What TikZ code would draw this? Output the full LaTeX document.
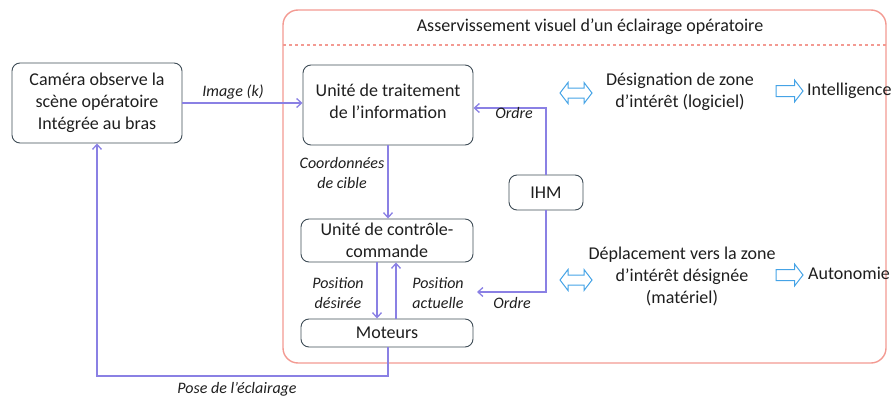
\documentclass[tikz,border=0pt]{standalone}
\usepackage{fontspec}
\setmainfont{Carlito}
\usetikzlibrary{arrows.meta}
\definecolor{boxc}{HTML}{3E4C56}
\definecolor{conn}{HTML}{8A80E4}
\definecolor{framec}{HTML}{F39A92}
\definecolor{bluea}{HTML}{45A3E6}
\definecolor{ink}{HTML}{1E1E1E}
\tikzset{
  blk/.style={draw=boxc, line width=0.9pt, rounded corners=8pt, align=center, inner sep=0pt,
    text=ink, font=\fontsize{18}{22}\selectfont},
  lbl/.style={align=center, inner sep=0pt, text=ink, font=\fontsize{16}{20}\selectfont\itshape},
  txt/.style={align=center, inner sep=0pt, text=ink, font=\fontsize{18}{22}\selectfont},
  cn/.style={draw=conn, line width=1.3pt, -{Straight Barb[length=5pt,width=9pt]}},
  sarrow/.pic={\draw[bluea, line width=1pt, line join=miter]
     (-13.5,-5.5) -- (5,-5.5) -- (5,-11) -- (13.5,0) -- (5,11) -- (5,5.5) -- (-13.5,5.5) -- cycle;},
  darrow/.pic={\draw[bluea, line width=1pt, line join=miter]
     (-8,-5) -- (8,-5) -- (8,-10.5) -- (16,0) -- (8,10.5) -- (8,5) -- (-8,5) -- (-8,10.5) -- (-16,0) -- (-8,-10.5) -- cycle;}
}
\begin{document}
\begin{tikzpicture}[x=1pt,y=-1pt]
\useasboundingbox (0,0) rectangle (891,396);
% frame
\node[draw=framec, line width=1.4pt, rounded corners=15pt, minimum width=603pt, minimum height=353pt, inner sep=0pt] (frame) at (584.5,186.5) {};
\coordinate (dl) at (283,45);
\coordinate (dr) at (886,45);
\draw[framec, line width=1.4pt, dash pattern=on 3pt off 3pt] (dl) -- (dr);
\node[txt] (title) at (590,27) {Asservissement visuel d’un éclairage opératoire};
% boxes
\node[blk, minimum width=170pt, minimum height=80pt] (cam) at (97,103) {Caméra observe la\\scène opératoire\\Intégrée au bras};
\node[blk, minimum width=170pt, minimum height=80pt] (trait) at (388,105) {};
\node[txt] (traittxt) at (388,101) {Unité de traitement\\de l’information};
\node[blk, minimum width=74pt, minimum height=35pt] (ihm) at (546,192.5) {IHM};
\node[blk, minimum width=172pt, minimum height=43pt] (ctrl) at (387,240.5) {Unité de contrôle-\\commande};
\node[blk, minimum width=172pt, minimum height=28pt] (mot) at (387,333) {Moteurs};
% connectors
\draw[cn] (cam.east) -- (cam.east -| trait.west);
\draw[cn] (ihm.north) |- ([yshift=-3pt]trait.east);
\draw[cn] (trait.south) -- (trait.south |- ctrl.north);
\draw[cn] ([xshift=-10pt]ctrl.south) -- ([xshift=-10pt]mot.north);
\draw[cn] ([xshift=9pt]mot.north) -- ([xshift=9pt]ctrl.south);
\coordinate (ordtip) at (477,292);
\draw[cn] (ihm.south) |- (ordtip);
\coordinate (posec) at (388,376);
\draw[cn] (mot.south -| posec) -- (posec) -| (cam.south);
% labels
\node[lbl] (limg) at (233,92) {Image (k)};
\node[lbl] (lord1) at (514,113) {Ordre};
\node[lbl] (lcoord) at (342,173) {Coordonnées\\de cible};
\node[lbl] (lpd) at (338,293) {Position\\désirée};
\node[lbl] (lpa) at (438,293) {Position\\actuelle};
\node[lbl] (lord2) at (512,303) {Ordre};
\node[lbl] (lpose) at (237,389) {Pose de l’éclairage};
% right side
\pic at (576,93) {darrow};
\node[txt] (desig) at (680,92) {Désignation de zone\\d’intérêt (logiciel)};
\pic at (789.5,91) {sarrow};
\node[txt, anchor=west] (intel) at (807,91) {Intelligence};
\pic at (576,280) {darrow};
\node[txt] (depl) at (682,276) {Déplacement vers la zone\\d’intérêt désignée\\(matériel)};
\pic at (789.5,275) {sarrow};
\node[txt, anchor=west] (auto) at (808,273) {Autonomie};
\end{tikzpicture}
\end{document}
